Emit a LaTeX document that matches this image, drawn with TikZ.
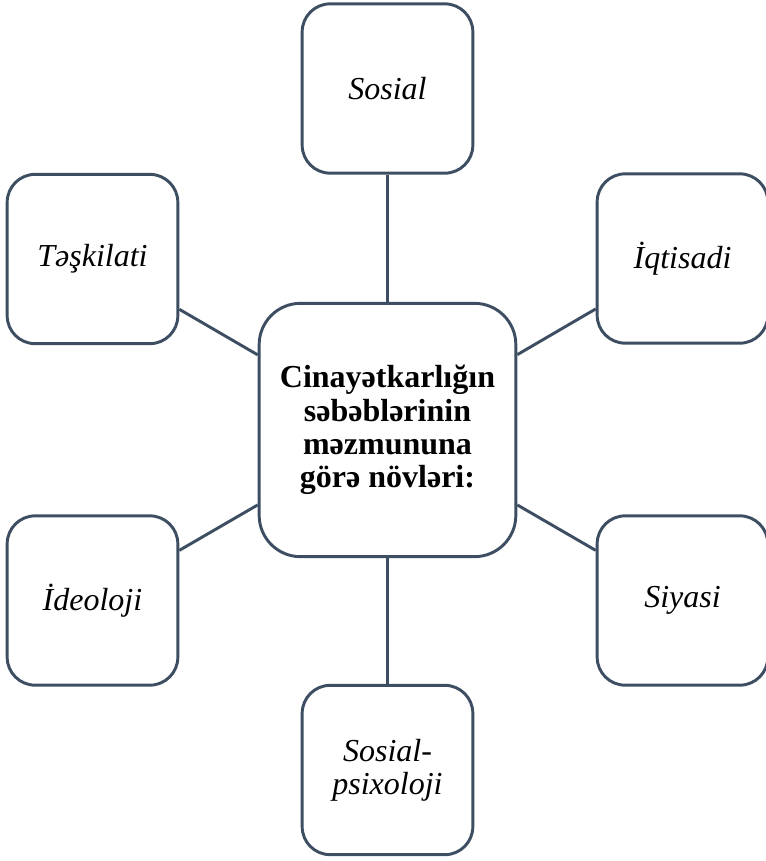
\documentclass[tikz,border=0pt]{standalone}
\usepackage{fontspec}
\setmainfont{Liberation Serif}
\definecolor{edgec}{RGB}{62,78,98}
\tikzset{
  x=0.75pt, y=-0.75pt,
  conn/.style={draw=edgec, line width=2.2pt},
  smallbox/.style={draw=edgec, line width=2.2pt, fill=white, rounded corners=21pt,
    minimum width=128pt, minimum height=127pt, align=center, inner sep=2pt,
    font=\fontsize{24}{25}\selectfont\itshape},
  centerbox/.style={draw=edgec, line width=2.2pt, fill=white, rounded corners=31pt,
    minimum width=192.5pt, minimum height=190pt, align=center, inner sep=2pt,
    font=\fontsize{24}{25}\selectfont\bfseries}
}
\begin{document}
\begin{tikzpicture}
\useasboundingbox (0,0) rectangle (765,861);
\node[centerbox] (C) at (387.5,430) {Cinayətkarlığın\\səbəblərinin\\məzmununa\\görə növləri:};
\node[smallbox] (T) at (387.5,88.5) {Sosial};
\node[smallbox] (LT) at (92.5,259) {Təşkilati};
\node[smallbox] (RT) at (682.5,258.5) {İqtisadi};
\node[smallbox] (LB) at (92.5,600.5) {İdeoloji};
\node[smallbox] (RB) at (682.5,600.5) {Siyasi};
\node[smallbox] (B) at (387.5,770) {Sosial-\\psixoloji};
\draw[conn] (C) -- (T);
\draw[conn] (C) -- (LT);
\draw[conn] (C) -- (RT);
\draw[conn] (C) -- (LB);
\draw[conn] (C) -- (RB);
\draw[conn] (C) -- (B);
\end{tikzpicture}
\end{document}
